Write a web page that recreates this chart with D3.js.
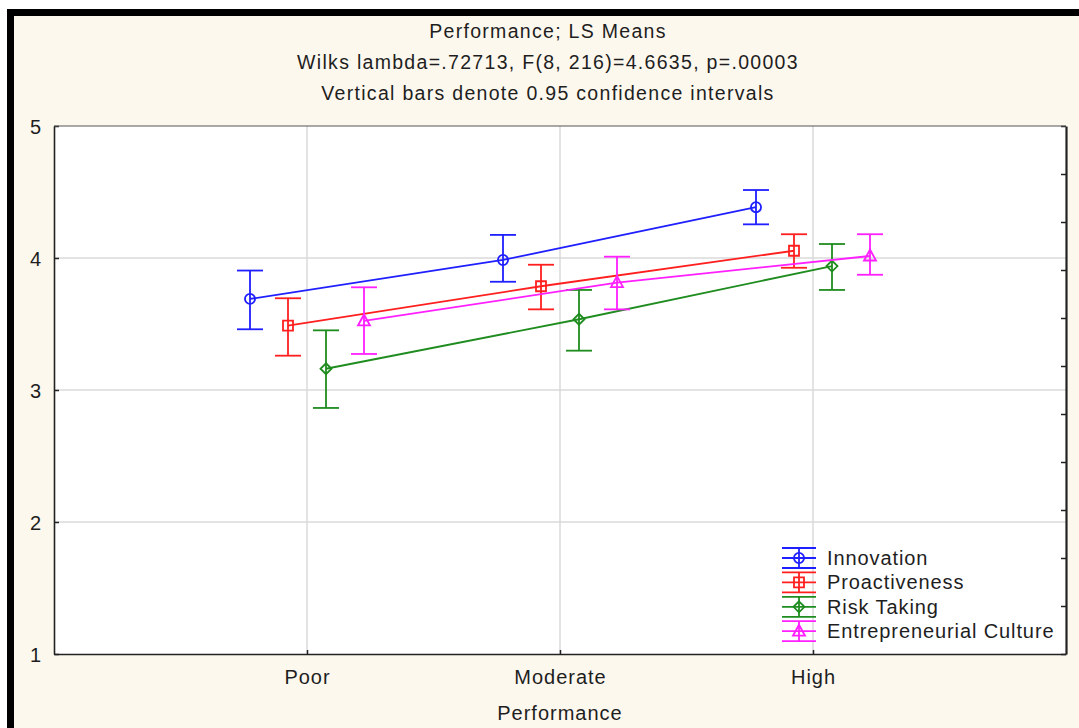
<!DOCTYPE html>
<html>
<head>
<meta charset="utf-8">
<script src="https://cdn.jsdelivr.net/npm/d3@7"></script>
<style>
  body { margin: 0; background: #fff; }
  #chart text { font-family: "Liberation Sans", Arial, sans-serif; fill: #1e1e1e; }
</style>
</head>
<body>
<div id="chart"></div>
<script>
const titleLines = [
  "Performance; LS Means",
  "Wilks lambda=.72713, F(8, 216)=4.6635, p=.00003",
  "Vertical bars denote 0.95 confidence intervals"
];
const categories = ["Poor", "Moderate", "High"];
const seriesNames = ["Innovation", "Proactiveness", "Risk Taking", "Entrepreneurial Culture"];
const yTicks = [1, 2, 3, 4, 5];

// LS means and 0.95 confidence limits
const innovationMeans = [3.69, 3.985, 4.385];
const innovationLower = [3.46, 3.82, 4.255];
const innovationUpper = [3.905, 4.175, 4.515];

const proactivenessMeans = [3.487, 3.786, 4.055];
const proactivenessLower = [3.26, 3.611, 3.926];
const proactivenessUpper = [3.695, 3.949, 4.18];

const riskMeans = [3.161, 3.536, 3.939];
const riskLower = [2.864, 3.298, 3.758];
const riskUpper = [3.452, 3.758, 4.106];

const cultureMeans = [3.523, 3.813, 4.015];
const cultureLower = [3.273, 3.611, 3.873];
const cultureUpper = [3.778, 4.01, 4.18];

const colors = ["#1f1fff", "#ff1f1f", "#1e8c1e", "#ff1fff"];

const series = [
  { name: seriesNames[0], means: innovationMeans, lower: innovationLower, upper: innovationUpper, shape: "circle" },
  { name: seriesNames[1], means: proactivenessMeans, lower: proactivenessLower, upper: proactivenessUpper, shape: "square" },
  { name: seriesNames[2], means: riskMeans, lower: riskLower, upper: riskUpper, shape: "diamond" },
  { name: seriesNames[3], means: cultureMeans, lower: cultureLower, upper: cultureUpper, shape: "triangle" }
];

const width = 1079, height = 728;
const plot = { left: 54, right: 1066, top: 126, bottom: 654 };
const capHalf = 13;
const sw = 1.8;

const svg = d3.select("#chart")
  .append("svg")
  .attr("width", width)
  .attr("height", height);

// cream page with the black frame on top and left
svg.append("rect").attr("width", width).attr("height", height).attr("fill", "#fff");
svg.append("rect").attr("x", 7).attr("y", 9).attr("width", width - 7).attr("height", height - 9).attr("fill", "#fdf8ee");
svg.append("rect").attr("x", 7).attr("y", 9).attr("width", width - 7).attr("height", 7).attr("fill", "#000");
svg.append("rect").attr("x", 7).attr("y", 9).attr("width", 7).attr("height", height - 9).attr("fill", "#000");

const xScale = d3.scalePoint()
  .domain(categories)
  .range([plot.left, plot.right])
  .padding(1);

const offset = d3.scalePoint()
  .domain(seriesNames)
  .range([-57, 57]);

const yScale = d3.scaleLinear()
  .domain([1, 5])
  .range([plot.bottom, plot.top]);

// plot area
svg.append("rect")
  .attr("x", plot.left).attr("y", plot.top)
  .attr("width", plot.right - plot.left).attr("height", plot.bottom - plot.top)
  .attr("fill", "#fff");

// grid
svg.append("g")
  .selectAll("line")
  .data(yTicks.slice(1, -1))
  .enter()
  .append("line")
  .attr("x1", plot.left).attr("x2", plot.right)
  .attr("y1", d => yScale(d)).attr("y2", d => yScale(d))
  .attr("stroke", "#dadada").attr("stroke-width", 1.5);

svg.append("g")
  .selectAll("line")
  .data(categories)
  .enter()
  .append("line")
  .attr("x1", d => xScale(d)).attr("x2", d => xScale(d))
  .attr("y1", plot.top).attr("y2", plot.bottom)
  .attr("stroke", "#dadada").attr("stroke-width", 1.5);

// titles
svg.append("g")
  .selectAll("text")
  .data(titleLines)
  .enter()
  .append("text")
  .attr("x", 548)
  .attr("y", (d, i) => 38 + i * 31)
  .attr("text-anchor", "middle")
  .style("font-size", "19.5px")
  .style("letter-spacing", "1.3px")
  .text(d => d);

// axes
const yAxis = d3.axisLeft(yScale)
  .tickValues(yTicks)
  .tickFormat(d3.format("d"))
  .tickSizeInner(-5)
  .tickSizeOuter(0)
  .tickPadding(13);
const gy = svg.append("g")
  .attr("transform", `translate(${plot.left},0)`)
  .call(yAxis);
gy.selectAll("text").style("font-size", "20px").attr("dy", "0.36em");

const rightAxis = d3.axisRight(yScale)
  .tickValues(d3.range(12).map(k => 1 + k * 4 / 11))
  .tickFormat("")
  .tickSizeInner(-5)
  .tickSizeOuter(0);
const gr = svg.append("g")
  .attr("transform", `translate(${plot.right},0)`)
  .call(rightAxis);

const xAxis = d3.axisBottom(xScale)
  .tickSizeInner(-4)
  .tickSizeOuter(0)
  .tickPadding(16);
const gx = svg.append("g")
  .attr("transform", `translate(0,${plot.bottom})`)
  .call(xAxis);
gx.selectAll("text").style("font-size", "20px").style("letter-spacing", "1px");

[gy, gr, gx].forEach(g => {
  g.selectAll(".tick line").attr("stroke", "#222").attr("stroke-width", 1.5);
  g.select(".domain").attr("stroke", "#222").attr("stroke-width", 1.6);
});
gr.select(".domain").attr("stroke-width", 2.2);

// top border
svg.append("line")
  .attr("x1", plot.left).attr("x2", plot.right)
  .attr("y1", plot.top).attr("y2", plot.top)
  .attr("stroke", "#555").attr("stroke-width", 1.2);

svg.append("text")
  .attr("x", 560)
  .attr("y", 720)
  .attr("text-anchor", "middle")
  .style("font-size", "20px")
  .style("letter-spacing", "1px")
  .text("Performance");

// marker shapes
const markerPath = shape => {
  if (shape === "circle") return d3.symbol(d3.symbolCircle, 80)();
  if (shape === "square") return d3.symbol(d3.symbolSquare, 100)();
  if (shape === "diamond") return "M0,-5.5L5.5,0L0,5.5L-5.5,0Z";
  return "M0,-6.5L6,4.5L-6,4.5Z";
};

const line = d3.line()
  .x(d => d.x)
  .y(d => yScale(d.mean));

series.forEach((s, si) => {
  const color = colors[si];
  const pts = categories.map((c, i) => ({
    x: xScale(c) + offset(s.name),
    mean: s.means[i],
    lo: s.lower[i],
    hi: s.upper[i]
  }));
  const g = svg.append("g");

  g.append("path")
    .datum(pts)
    .attr("d", line)
    .attr("fill", "none")
    .attr("stroke", color)
    .attr("stroke-width", sw);

  const bars = g.selectAll("g.bar")
    .data(pts)
    .enter()
    .append("g")
    .attr("class", "bar");

  bars.append("line")
    .attr("x1", d => d.x).attr("x2", d => d.x)
    .attr("y1", d => yScale(d.lo)).attr("y2", d => yScale(d.hi));
  bars.append("line")
    .attr("x1", d => d.x - capHalf).attr("x2", d => d.x + capHalf)
    .attr("y1", d => yScale(d.hi)).attr("y2", d => yScale(d.hi));
  bars.append("line")
    .attr("x1", d => d.x - capHalf).attr("x2", d => d.x + capHalf)
    .attr("y1", d => yScale(d.lo)).attr("y2", d => yScale(d.lo));
  bars.selectAll("line").attr("stroke", color).attr("stroke-width", sw);

  bars.append("path")
    .attr("d", markerPath(s.shape))
    .attr("transform", d => `translate(${d.x},${yScale(d.mean)})`)
    .attr("fill", "none")
    .attr("stroke", color)
    .attr("stroke-width", sw);
});

// legend (no box, sits on the plot)
const legend = svg.append("g")
  .attr("transform", "translate(799,558)");

const rows = legend.selectAll("g")
  .data(series)
  .enter()
  .append("g")
  .attr("transform", (d, i) => `translate(0,${i * 24.4})`);

rows.each(function (d, i) {
  const r = d3.select(this);
  const color = colors[i];
  [-10, 0, 10].forEach(dy => {
    r.append("line")
      .attr("x1", -17).attr("x2", 17)
      .attr("y1", dy).attr("y2", dy)
      .attr("stroke", color).attr("stroke-width", sw);
  });
  r.append("line")
    .attr("x1", 0).attr("x2", 0).attr("y1", -10).attr("y2", 10)
    .attr("stroke", color).attr("stroke-width", sw);
  r.append("path")
    .attr("d", markerPath(d.shape))
    .attr("fill", "none")
    .attr("stroke", color)
    .attr("stroke-width", sw);
  r.append("text")
    .attr("x", 28)
    .attr("y", 0)
    .attr("dy", "0.34em")
    .style("font-size", "20px")
    .style("letter-spacing", "0.9px")
    .text(d.name);
});
</script>
</body>
</html>
